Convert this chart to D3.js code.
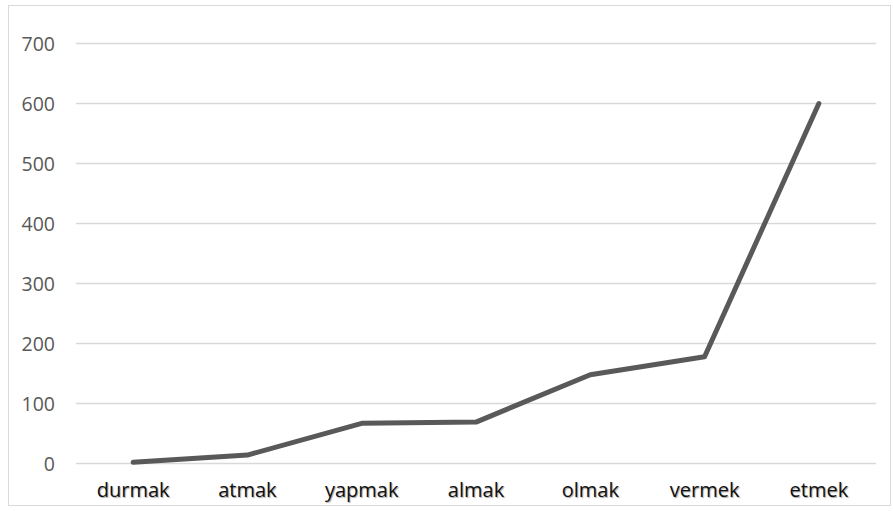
<!DOCTYPE html>
<html><head><meta charset="utf-8">
<script src="https://cdn.jsdelivr.net/npm/d3@7"></script>
<style>body{margin:0;background:#fff}</style>
</head><body>
<svg id="c" width="893" height="511"></svg>
<script>
const categories = ["durmak","atmak","yapmak","almak","olmak","vermek","etmek"];
const values = [2, 14, 67, 69, 148, 178, 600];
const yTicks = [0,100,200,300,400,500,600,700];

const svg = d3.select("#c");
svg.append("rect").attr("x",8.5).attr("y",5.5).attr("width",882).attr("height",500)
  .attr("fill","#fff").attr("stroke","#d9d9d9").attr("stroke-width",1);

const x = d3.scaleBand().domain(categories).range([76,876]);
const y = d3.scaleLinear().domain([0,700]).range([463.5,43.5]);

const grid = svg.append("g");
grid.selectAll("line").data(yTicks).join("line")
  .attr("x1",76).attr("x2",876)
  .attr("y1",d=>y(d)).attr("y2",d=>y(d))
  .attr("stroke","#d9d9d9").attr("stroke-width",1.3);

const yAxis = svg.append("g").attr("transform","translate(55,0)")
  .call(d3.axisLeft(y).tickValues(yTicks).tickSize(0).tickPadding(0));
yAxis.select(".domain").remove();
yAxis.selectAll("text").attr("font-family","Open Sans").attr("font-size",19.5)
  .attr("fill","#595959").attr("dy","0.35em");

const xAxis = svg.append("g").attr("transform","translate(0,483)")
  .call(d3.axisBottom(x).tickSize(0).tickPadding(0));
xAxis.select(".domain").remove();
xAxis.selectAll("text").attr("font-family","Open Sans").attr("font-size",20)
  .attr("fill","#111").attr("dy","0.71em")
  .style("text-shadow","1px 1px 1px rgba(0,0,0,0.35)");

const line = d3.line().x((d,i)=>x(categories[i])+x.bandwidth()/2).y(d=>y(d));
svg.append("path").datum(values).attr("d",line)
  .attr("fill","none").attr("stroke","#595959").attr("stroke-width",5)
  .attr("stroke-linecap","round").attr("stroke-linejoin","round");
</script>
</body></html>
